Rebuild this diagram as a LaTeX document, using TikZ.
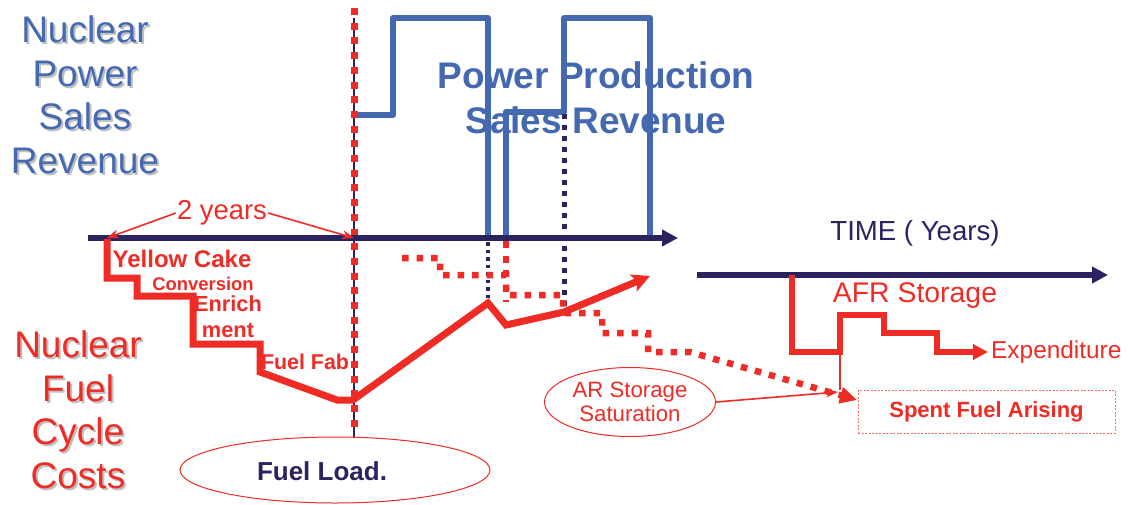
\documentclass[tikz,border=0pt]{standalone}
\usepackage{fontspec}
\setmainfont{Liberation Sans}
\usepackage{xcolor}
\usetikzlibrary{arrows.meta,positioning,shapes.geometric}
\definecolor{navy}{HTML}{2A2360}
\definecolor{cred}{HTML}{EE2B24}
\definecolor{cblue}{HTML}{4569B1}

\begin{document}
\begin{tikzpicture}[x=1pt, y=-1pt,
  axis/.style={draw=navy, line width=6.5pt, -{Triangle[length=16pt,width=16pt]}},
  rev/.style={draw=cblue, line width=6pt, line join=round},
  cost/.style={draw=cred, line width=7pt, line join=miter},
  afr/.style={draw=cred, line width=6pt, line join=miter, -{Triangle[length=15pt,width=15pt]}},
  reddots/.style={draw=cred, line width=7pt, dash pattern=on 7pt off 7.7pt},
  navydots/.style={draw=navy, line width=5pt, dash pattern=on 5pt off 6pt},
  thinarr/.style={draw=cred, line width=1.6pt, -{Stealth[length=12pt,width=9pt]}},
  bigtitle/.style={font=\fontsize{37}{43.5}\selectfont, align=center, inner sep=0pt},
  shade/.style={bigtitle, text=black!25},
  costlbl/.style={text=cred, inner sep=0pt, align=center},
  oval/.style={draw=cred, line width=1pt, ellipse, inner sep=0pt}
]
\useasboundingbox (0,0) rectangle (1128,504);

% time points on the axes
\coordinate (t0) at (107,238);
\coordinate (tload) at (354,238);
\coordinate (tend) at (678,238);
\coordinate (u0) at (697,275);
\coordinate (uend) at (1108,275);

% revenue blocks
\draw[rev] (354,115) -- (393,115) -- (393,18) -- (488,18) -- (488,236);
\draw[rev] (506,236) -- (506,112) -- (564,112) -- (564,18) -- (650,18) -- (650,236);

% reactor outage markers
\draw[navydots, line width=3.5pt, dash pattern=on 3.5pt off 4pt] (488,242) -- (488,302);
\draw[navydots] (564,114) -- (564,312);

% fuel load line
\draw[navy, line width=1.3pt] (354,18) -- (354,438);
\draw[reddots] (tload |- 0,8) -- (tload |- 0,430);

% time axes
\draw[axis] (88,238) -- (tend);
\draw[axis] (u0) -- (uend);

% spent fuel arising, dotted
\coordinate (sfa) at (857,400);
\draw[reddots, line width=6.5pt] (506,241) -- (506,302);
\draw[reddots, line width=6.5pt, dash pattern=on 6.5pt off 8pt, -{Triangle[length=17pt,width=16pt]}]
  (402,258) -- (440,258) -- (440,275) -- (506,275) -- (506,295) -- (563,295) -- (563,313)
  -- (602,313) -- (602,333) -- (648,333) -- (648,352) -- (690,352) -- (sfa);

% fuel cycle costs
\draw[cost, -{Stealth[length=18pt,width=18pt,inset=4pt]}]
  (107,239) -- (107,278) -- (137,278) -- (137,296) -- (193,296) -- (193,344)
  -- (260,344) -- (260,372) -- (337,400) -- (353,400) -- (488,303) -- (506,325)
  -- (564,312) -- (650,276);

% AFR storage
\coordinate (exp) at (988,352);
\draw[afr] (792,275) -- (792,352) -- (840,352) -- (840,315) -- (884,315) -- (884,333)
  -- (937,333) -- (937,352) -- (exp);
\draw[cred, line width=1.2pt] (840,352) -- (840,390);

% titles, with their shadows
\node[shade] at (87,97) {Nuclear\\Power\\Sales\\Revenue};
\node[shade] at (80,412) {Nuclear\\Fuel\\Cycle\\Costs};
\node[bigtitle, text=cblue] (revtitle) at (85,95) {Nuclear\\Power\\Sales\\Revenue};
\node[bigtitle, text=cred] (costtitle) at (78,410) {Nuclear\\Fuel\\Cycle\\Costs};
\node[bigtitle, text=cblue, font=\bfseries\fontsize{37}{45}\selectfont] (prod) at (596,98) {Power Production\\Sales Revenue};

% axis labels
\node[text=navy, font=\fontsize{27.6}{30}\selectfont, inner sep=0pt] (time) at (915,233) {TIME ( Years)};
\node[text=cred, font=\fontsize{27.4}{30}\selectfont, inner sep=1pt] (yrs) at (222,213) {2 years};
\draw[thinarr] (yrs.west) -- (t0);
\draw[thinarr] (yrs.east) -- (tload);

% cost steps
\node[costlbl, font=\bfseries\fontsize{24}{26}\selectfont] (yc) at (182,259) {Yellow Cake};
\node[costlbl, font=\bfseries\fontsize{18.4}{20}\selectfont] (conv) at (203,284) {Conversion};
\node[costlbl, font=\bfseries\fontsize{21.8}{26}\selectfont] (enr) at (228,317) {Enrich\\ment};
\node[costlbl, font=\bfseries\fontsize{21.4}{24}\selectfont] (fab) at (305,362) {Fuel Fab};

% AFR labels
\node[costlbl, font=\fontsize{28.4}{30}\selectfont] (afrlbl) at (915,296) {AFR Storage};
\node[costlbl, font=\fontsize{24.4}{26}\selectfont, right=3pt of exp] (expl) {Expenditure};

% ovals and box
\node[oval, minimum width=310pt, minimum height=66pt] (loadell) at (335,470) {};
\node[text=navy, font=\bfseries\fontsize{26}{28}\selectfont, inner sep=0pt] (load) at (322,471) {Fuel Load.};
\node[oval, minimum width=171pt, minimum height=69pt, text=cred,
  font=\fontsize{22.2}{24}\selectfont, align=center] (arsat) at (630,402) {AR Storage\\Saturation};
\node[draw=cred!70, line width=0.8pt, dash pattern=on 2pt off 1.5pt, minimum width=257pt,
  minimum height=43pt, text=cred, font=\bfseries\fontsize{22}{24}\selectfont] (spent) at (986.5,411.5) {Spent Fuel Arising};
\coordinate (sat) at (838,392);
\draw[thinarr] (arsat.east) -- (sat);
\end{tikzpicture}
\end{document}
